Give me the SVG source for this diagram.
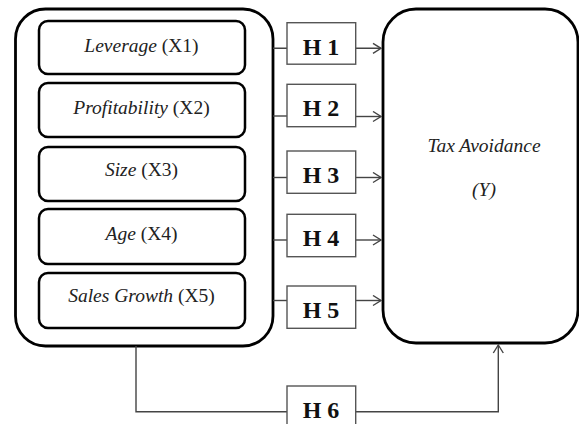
<svg xmlns="http://www.w3.org/2000/svg" width="579" height="424" viewBox="0 0 579 424">
<defs>
<style>
.big{fill:#fff;stroke:#000;stroke-width:2.8}
.inner{fill:#fff;stroke:#000;stroke-width:2.5}
.hbox{fill:#fff;stroke:#555;stroke-width:1.4}
.lbl{font-family:"Liberation Serif","Times New Roman",serif;font-size:19.5px;fill:#222;text-anchor:middle}
.hl{font-family:"Liberation Serif","Times New Roman",serif;font-size:24px;font-weight:bold;fill:#111;text-anchor:middle}
.con{fill:none;stroke:#444;stroke-width:1.4}
</style>
<marker id="arr" markerWidth="12" markerHeight="12" refX="9" refY="6" orient="auto" markerUnits="userSpaceOnUse">
<path d="M1,1 L9,6 L1,11" fill="none" stroke="#444" stroke-width="1.4"/>
</marker>
</defs>
<g id="independents">
<rect class="big" x="15.5" y="9" width="257.5" height="337" rx="30" ry="30"/>
</g>
<g id="x1"><rect class="inner" x="39" y="21" width="206" height="53" rx="9"/><text class="lbl" x="141.5" y="51.5"><tspan font-style="italic">Leverage</tspan> (X1)</text></g>
<g id="x2"><rect class="inner" x="39" y="83" width="206" height="54" rx="9"/><text class="lbl" x="141.5" y="113.5"><tspan font-style="italic">Profitability</tspan> (X2)</text></g>
<g id="x3"><rect class="inner" x="39" y="147" width="206" height="54" rx="9"/><text class="lbl" x="141.5" y="176"><tspan font-style="italic">Size</tspan> (X3)</text></g>
<g id="x4"><rect class="inner" x="39" y="209" width="206" height="55" rx="9"/><text class="lbl" x="141.5" y="239.5"><tspan font-style="italic">Age</tspan> (X4)</text></g>
<g id="x5"><rect class="inner" x="39" y="273" width="206" height="55" rx="9"/><text class="lbl" x="141.5" y="302"><tspan font-style="italic">Sales Growth</tspan> (X5)</text></g>
<g id="y"><rect class="big" x="383" y="9" width="195" height="334" rx="33" ry="33"/><text class="lbl" x="484" y="152" font-style="italic">Tax Avoidance</text><text class="lbl" x="484" y="196" font-style="italic">(Y)</text></g>
<g id="connectors">
<path class="con" d="M273,48.3 H287 M356,48.3 H381" marker-end="url(#arr)"/>
<path class="con" d="M273,116 H287"/><path class="con" d="M356,116.5 H381" marker-end="url(#arr)"/>
<path class="con" d="M273,177.5 H287"/><path class="con" d="M356,177.5 H381" marker-end="url(#arr)"/>
<path class="con" d="M273,240 H287"/><path class="con" d="M356,240 H381" marker-end="url(#arr)"/>
<path class="con" d="M273,300.5 H287"/><path class="con" d="M356,300.5 H381" marker-end="url(#arr)"/>
<path class="con" d="M136,346 V411.7 H287"/>
<path class="con" d="M356,411.7 H498.3 V345" marker-end="url(#arr)"/>
</g>
<g id="h1"><rect class="hbox" x="287" y="22.7" width="68.7" height="41.5"/><text class="hl" x="321" y="55">H 1</text></g>
<g id="h2"><rect class="hbox" x="287" y="84.3" width="68.7" height="42.4"/><text class="hl" x="321" y="116">H 2</text></g>
<g id="h3"><rect class="hbox" x="287" y="151" width="68.7" height="42.3"/><text class="hl" x="321" y="183">H 3</text></g>
<g id="h4"><rect class="hbox" x="287" y="214.3" width="68.7" height="42.4"/><text class="hl" x="321" y="246">H 4</text></g>
<g id="h5"><rect class="hbox" x="287" y="286" width="68.7" height="42.3"/><text class="hl" x="321" y="318">H 5</text></g>
<g id="h6"><rect class="hbox" x="287" y="386" width="68.7" height="42.5"/><text class="hl" x="321" y="418">H 6</text></g>
</svg>
